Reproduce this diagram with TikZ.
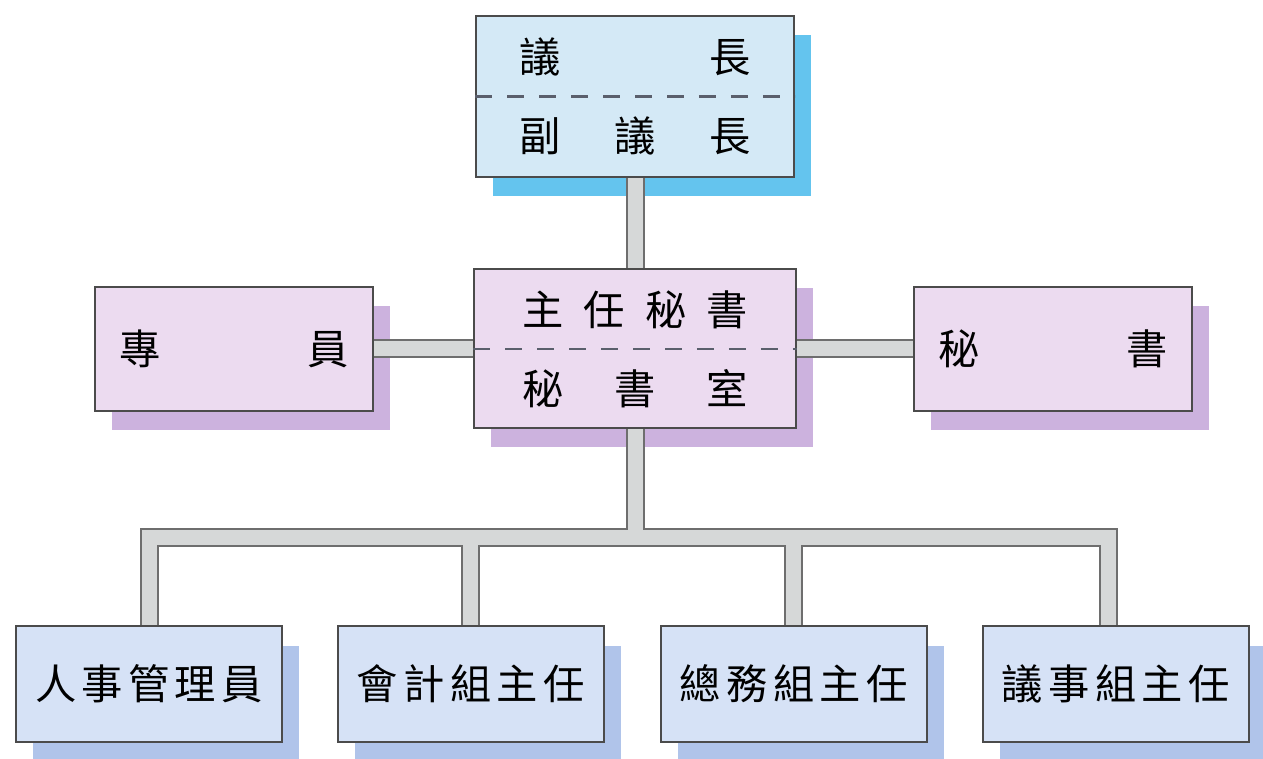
\documentclass[tikz,border=0pt]{standalone}
\usepackage{fontspec}
\newfontfamily\cjk{Noto Sans CJK TC}
\usetikzlibrary{positioning,shadows}

\definecolor{chairfill}{RGB}{212,233,246}
\definecolor{chairshadow}{RGB}{100,196,238}
\definecolor{officefill}{RGB}{236,219,240}
\definecolor{officeshadow}{RGB}{204,178,222}
\definecolor{unitfill}{RGB}{214,226,246}
\definecolor{unitshadow}{RGB}{176,196,234}
\definecolor{boxline}{RGB}{75,75,75}
\definecolor{barfill}{RGB}{214,216,216}
\definecolor{barline}{RGB}{110,110,110}
\definecolor{splitcolor}{RGB}{90,95,108}

\begin{document}
\begin{tikzpicture}[
    x=0.02cm, y=-0.02cm,
    every node/.style={font=\cjk\fontsize{23.5}{45}\selectfont},
    box/.style={
        rectangle,
        draw=boxline,
        line width=0.04cm,
        align=center,
        inner sep=0pt
    },
    chairbox/.style={
        box,
        fill=chairfill,
        minimum width=6.36cm,
        minimum height=3.24cm,
        text width=4.62cm,
        drop shadow={shadow xshift=0.34cm, shadow yshift=-0.38cm, fill=chairshadow, opacity=1}
    },
    officebox/.style={
        box,
        fill=officefill,
        minimum width=6.44cm,
        minimum height=3.18cm,
        text width=4.52cm,
        drop shadow={shadow xshift=0.34cm, shadow yshift=-0.38cm, fill=officeshadow, opacity=1}
    },
    sidebox/.style={
        box,
        fill=officefill,
        minimum width=5.56cm,
        minimum height=2.48cm,
        text width=4.58cm,
        drop shadow={shadow xshift=0.34cm, shadow yshift=-0.38cm, fill=officeshadow, opacity=1}
    },
    unitbox/.style={
        box,
        fill=unitfill,
        minimum width=5.32cm,
        minimum height=2.32cm,
        text width=4.56cm,
        drop shadow={shadow xshift=0.34cm, shadow yshift=-0.4cm, fill=unitshadow, opacity=1}
    },
    bar/.style={draw=barline, line width=0.04cm, double=barfill, double distance=0.3cm},
    split line/.style={draw=splitcolor, line width=0.045cm, dash pattern=on 0.34cm off 0.3cm}
]
\useasboundingbox (0,0) rectangle (1263,758);

% Speaker
\node [chairbox] (chair) at (635,96.5) {議\hfill 長\\副\hfill 議\hfill 長};

% Secretariat row
\node [officebox, below=1.8cm of chair] (office) {主\hfill 任\hfill 秘\hfill 書\\秘\hfill 書\hfill 室};
\node [sidebox, left=1.98cm of office] (staff) {專\hfill 員};
\node [sidebox, right=2.32cm of office] (secretary) {秘\hfill 書};

% Units
\node [unitbox] (personnel) at (149,683.5) {人\hfill 事\hfill 管\hfill 理\hfill 員};
\node [unitbox, right=1.08cm of personnel] (accounting) {會\hfill 計\hfill 組\hfill 主\hfill 任};
\node [unitbox, right=1.1cm of accounting] (general) {總\hfill 務\hfill 組\hfill 主\hfill 任};
\node [unitbox, right=1.08cm of general] (council) {議\hfill 事\hfill 組\hfill 主\hfill 任};

% Split lines
\draw [split line] (chair.west) -- (chair.east);
\draw [split line] (office.west) -- (office.east);

% Connections
\coordinate (bus) at (635,537);
\coordinate (drop) at ([xshift=-0.14cm]council.north);
\draw [bar] (chair.south) -- (office.north)
    (staff.east) -- (staff.east -| office.west)
    (office.east) -- (office.east -| secretary.west);
\draw [bar] (office.south) -- (bus)
    (personnel.north) |- (bus) -| (drop)
    (bus -| accounting.north) -- (accounting.north)
    (bus -| general.north) -- (general.north);

\end{tikzpicture}
\end{document}
